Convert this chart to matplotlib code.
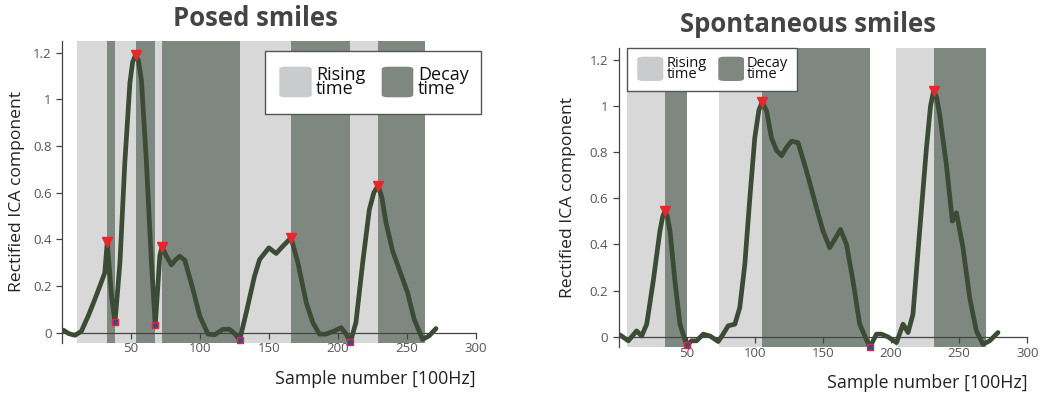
import matplotlib
matplotlib.use("Agg")
import matplotlib.pyplot as plt
from matplotlib.patches import FancyBboxPatch, Rectangle

plt.rcParams["font.family"] = ["Open Sans", "DejaVu Sans"]

# posed smile: ICA trace, peaks, troughs and onset/peak/offset of each event
posed_x = [1, 5, 9.4, 14, 19, 23, 27.5, 31, 32.8, 35.9, 38.4, 42, 45.5, 49.2,
           51.2, 53.3, 55.4, 57.6, 61.2, 64.8, 67.6, 70.9, 72.5, 75.7, 79.3, 82,
           85.3, 89, 94.9, 99.8, 105.8, 110.6, 116.6, 121.4, 126, 128.7, 133.5,
           139.5, 143.2, 149.9, 155.2, 160, 166, 170.9, 177, 181.7, 186.6,
           191.4, 197.4, 202.3, 205.9, 209, 213, 217.9, 222.7, 226, 229, 231.8,
           234.8, 239.6, 244.4, 250.4, 255.2, 261.3, 266.1, 271]
posed_y = [0.01, -0.005, -0.012, 0.005, 0.071, 0.13, 0.2, 0.256, 0.389, 0.156,
           0.043, 0.3, 0.726, 1.07, 1.16, 1.19, 1.165, 1.08, 0.726, 0.3, 0.031,
           0.33, 0.366, 0.327, 0.29, 0.31, 0.327, 0.31, 0.185, 0.071, -0.007,
           -0.01, 0.014, 0.014, -0.01, -0.033, 0.085, 0.242, 0.313, 0.363,
           0.339, 0.37, 0.406, 0.3, 0.128, 0.043, -0.007, -0.007, 0.007, 0.021,
           -0.007, -0.04, 0.043, 0.3, 0.527, 0.6, 0.63, 0.58, 0.47, 0.349,
           0.27, 0.171, 0.057, -0.03, -0.014, 0.017]
posed_peak_x = [32.8, 53.3, 72.5, 166, 229]
posed_peak_y = [0.389, 1.19, 0.366, 0.406, 0.63]
posed_trough_x = [38.4, 67.6, 128.7, 209]
posed_trough_y = [0.043, 0.031, -0.033, -0.04]
posed_onset = [10.8, 38.4, 67.6, 128.7, 209]
posed_offset = [38.4, 67.6, 128.7, 209, 263]

# spontaneous smile
spont_x = [1, 7.2, 13.3, 17, 20.7, 25.5, 30.4, 32.4, 34.1, 35.9, 37.8, 41.4,
           45.1, 50, 53.7, 57.3, 62.2, 67.1, 73.2, 76.8, 80.5, 85.4, 89, 92.7,
           96.4, 100, 103, 105.4, 108.7, 112.3, 116, 119.7, 123.3, 127, 131.8,
           138, 145.3, 150.1, 155, 158.5, 162.9, 167.3, 172.1, 177, 184.4,
           189.3, 193, 197.8, 204, 208.8, 212.5, 216.1, 221, 226, 229, 231.3,
           233.5, 235.7, 240.6, 245, 248, 252.8, 257.7, 262.6, 267.5, 272.4,
           278.5]
spont_y = [0.009, -0.017, 0.026, 0.004, 0.055, 0.242, 0.458, 0.52, 0.545,
           0.52, 0.458, 0.242, 0.055, -0.035, -0.017, -0.017, 0.012, 0.004,
           -0.02, 0.012, 0.048, 0.055, 0.127, 0.314, 0.602, 0.861, 0.98, 1.017,
           0.977, 0.86, 0.807, 0.784, 0.82, 0.847, 0.84, 0.717, 0.559, 0.458,
           0.386, 0.42, 0.465, 0.4, 0.242, 0.055, -0.045, 0.012, 0.012, 0.0,
           -0.025, 0.055, 0.019, 0.098, 0.458, 0.818, 1.0, 1.066, 1.035, 0.962,
           0.746, 0.501, 0.537, 0.386, 0.17, 0.026, -0.032, -0.017, 0.019]
spont_peak_x = [34.1, 105.4, 231.3]
spont_peak_y = [0.545, 1.017, 1.066]
spont_trough_x = [50, 184.4]
spont_trough_y = [-0.035, -0.045]
spont_onset = [6.5, 73.9, 204]
spont_offset = [50, 184.4, 270]

x_ticks = [50, 100, 150, 200, 250, 300]
y_ticks = [0, 0.2, 0.4, 0.6, 0.8, 1, 1.2]

RISE = "#d8d8d8"
DECAY = "#7e8880"
LINE = "#3b4b35"
W, H = 1045, 394

fig = plt.figure(figsize=(W / 100, H / 100), dpi=100)


def px_box(x0, y0, x1, y1):
    return [x0 / W, 1 - y1 / H, (x1 - x0) / W, (y1 - y0) / H]


def draw_panel(rect, x, y, peak_x, peak_y, trough_x, trough_y, onset, offset):
    ax = fig.add_axes(rect)
    for start, top, end in zip(onset, peak_x, offset):
        ax.axvspan(start, top, color=RISE, lw=0, zorder=0)
        ax.axvspan(top, end, color=DECAY, lw=0, zorder=0)
    ax.plot(x, y, color=LINE, lw=3.4, solid_joinstyle="round",
            solid_capstyle="round", zorder=3)
    ax.plot(peak_x, peak_y, "v", ms=7, color="#e8262b", zorder=4, clip_on=False)
    ax.plot(trough_x, trough_y, "s", ms=5, mfc="#2b4e9e", mec="#e8262b",
            mew=1, zorder=4, clip_on=False)

    ax.set_xlim(0, 300)
    ax.set_ylim(-0.045, 1.25)
    ax.set_xticks(x_ticks)
    ax.set_yticks(y_ticks)
    ax.set_yticklabels([f"{v:g}" for v in y_ticks])
    ax.spines[["top", "right"]].set_visible(False)
    ax.spines["bottom"].set_position(("data", 0))
    for s in ("left", "bottom"):
        ax.spines[s].set_color("#444444")
        ax.spines[s].set_linewidth(0.9)
        ax.spines[s].set_zorder(2)
    ax.tick_params(colors="#444444", labelcolor="#555555", labelsize=9.5,
                   length=4, width=0.9)
    ax.tick_params(axis="x", pad=3)
    ax.set_facecolor("none")
    ax.set_ylabel("Rectified ICA component", fontsize=12.6, color="#222222")
    ax.set_xlabel("Sample number [100Hz]", fontsize=12.8, color="#222222")
    ax.xaxis.set_label_coords(1.0, -0.09)
    ax.xaxis.label.set_horizontalalignment("right")
    return ax


def draw_legend(box, sw, txt, size):
    x0, y0, x1, y1 = box
    fig.add_artist(Rectangle((x0 / W, 1 - y1 / H), (x1 - x0) / W, (y1 - y0) / H,
                             transform=fig.transFigure, facecolor="white",
                             edgecolor="#555555", lw=1, zorder=5))
    for (sx0, sy0, sx1, sy1), color in zip(sw, ["#cacbcd", DECAY]):
        fig.add_artist(FancyBboxPatch((sx0 / W, 1 - sy1 / H), (sx1 - sx0) / W,
                                      (sy1 - sy0) / H,
                                      boxstyle="round,pad=0,rounding_size=0.006",
                                      transform=fig.transFigure,
                                      facecolor=color, edgecolor="none",
                                      zorder=6))
    for (tx, ty), label in zip(txt, ["Rising\ntime", "Decay\ntime"]):
        fig.text(tx / W, 1 - ty / H, label, fontsize=size, color="#111111",
                 ha="left", va="center", linespacing=0.72, zorder=7)


ax1 = draw_panel(px_box(62, 41, 476, 343), posed_x, posed_y, posed_peak_x,
                 posed_peak_y, posed_trough_x, posed_trough_y,
                 posed_onset, posed_offset)
ax2 = draw_panel(px_box(618.5, 48, 1027.3, 347.3), spont_x, spont_y,
                 spont_peak_x, spont_peak_y, spont_trough_x, spont_trough_y,
                 spont_onset, spont_offset)
ax1.yaxis.set_label_coords(-0.09, 0.5)
ax2.yaxis.set_label_coords(-0.104, 0.5)

fig.text(255 / W, 1 - 18 / H, "Posed smiles", fontsize=18.5, fontweight="bold",
         color="#444444", ha="center", va="center")
fig.text(808 / W, 1 - 24 / H, "Spontaneous smiles", fontsize=18.5,
         fontweight="bold", color="#444444", ha="center", va="center")

draw_legend((265, 50.7, 480.7, 114),
            [(279.3, 66.7, 311.7, 97.3), (381.7, 66.7, 413.3, 97.3)],
            [(316, 82), (418, 82)], 13)
draw_legend((626.7, 48.3, 796.7, 90.7),
            [(637.3, 56.7, 663.3, 81), (718.3, 56.7, 744, 81)],
            [(667, 69), (747, 69)], 10.5)

fig.savefig("out.png", dpi=100, facecolor="white")
